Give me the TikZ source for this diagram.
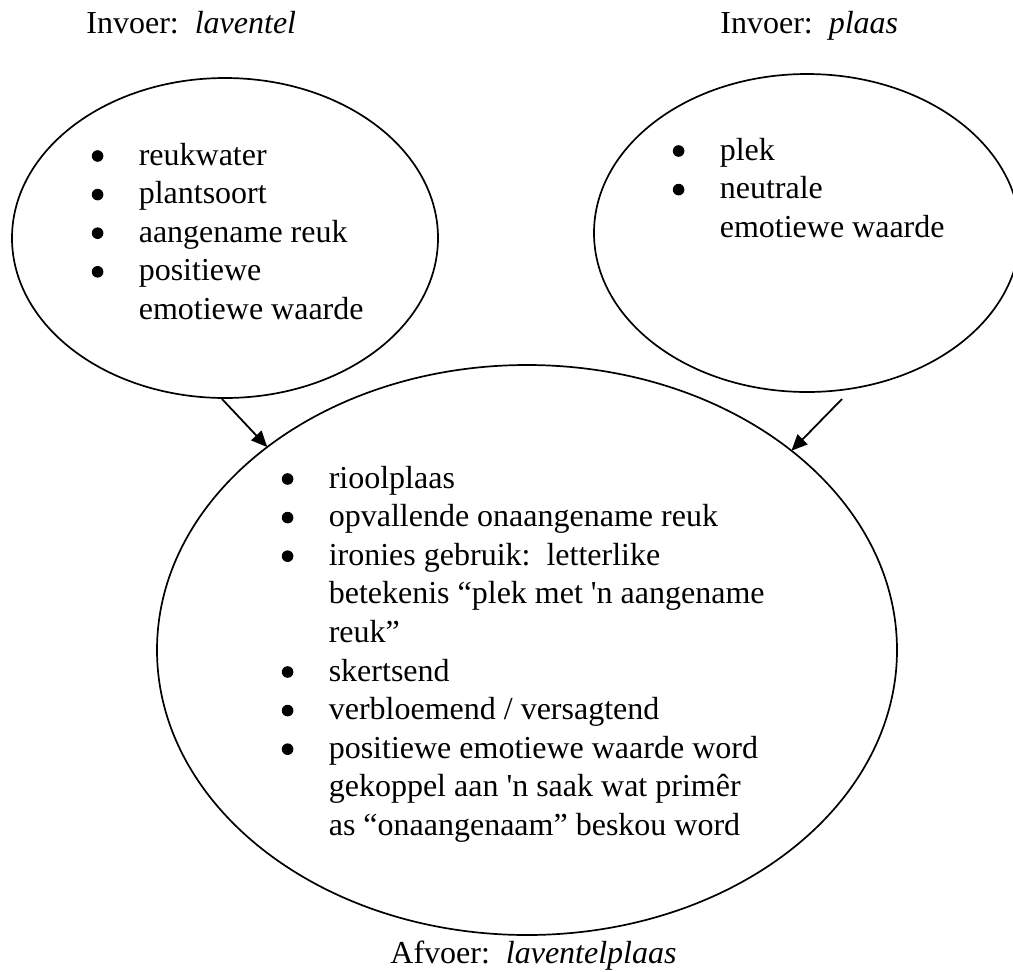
\documentclass[tikz,border=0pt]{standalone}
\usepackage{fontspec}
\newfontfamily\docfont{Liberation Serif}
\usetikzlibrary{shapes.geometric,arrows.meta}
% list bullet: a filled dot, centred 4.5pt above the baseline
\newcommand\bul{\makebox[23.5pt][l]{\tikz[baseline=-4.5pt]\fill (2.9pt,0pt) circle[radius=2.9pt];}}
\tikzset{
  bubble/.style={draw, ellipse, line width=0.85pt, inner sep=0pt, outer sep=0pt},
  caption/.style={anchor=base west, inner sep=0pt, font=\docfont\fontsize{16}{19.3}\selectfont},
  listtext/.style={anchor=base west, inner sep=0pt, font=\docfont\fontsize{16}{19.3}\selectfont},
  link/.style={line width=0.9pt, -{Triangle[length=8pt,width=7pt]}}
}
\newcommand\itemlist[1]{\parbox[t]{330pt}{\raggedright\parindent=0pt #1}}
\begin{document}
\begin{tikzpicture}[x=0.5pt,y=-0.5pt]
  \clip (0,0) rectangle (1013,971);

  % headings
  \node[caption] (inL) at (86,33) {Invoer:\ \ \textit{laventel}};
  \node[caption] (inR) at (720,33) {Invoer:\ \ \textit{plaas}};
  \node[caption] (out) at (390,963) {Afvoer:\ \ \textit{laventelplaas}};

  % the three ellipses
  \node[bubble, minimum width=213pt, minimum height=160pt] (L) at (225,238) {};
  \node[bubble, minimum width=213pt, minimum height=159pt] (R) at (807,233) {};
  \node[bubble, minimum width=370pt, minimum height=285pt] (B) at (527,650) {};

  % contents
  \node[listtext] (Ltxt) at (91.4,165) {\itemlist{%
    \bul reukwater\\
    \bul plantsoort\\
    \bul aangename reuk\\
    \bul positiewe\\
    \hspace*{23.5pt}emotiewe waarde}};
  \node[listtext] (Rtxt) at (672.4,160) {\itemlist{%
    \bul plek\\
    \bul neutrale\\
    \hspace*{23.5pt}emotiewe waarde}};
  \node[listtext] (Btxt) at (281.4,488) {\itemlist{%
    \bul rioolplaas\\
    \bul opvallende onaangename reuk\\
    \bul ironies gebruik:\ \ letterlike\\
    \hspace*{23.5pt}betekenis “plek met 'n aangename\\
    \hspace*{23.5pt}reuk”\\
    \bul skertsend\\
    \bul verbloemend / versagtend\\
    \bul positiewe emotiewe waarde word\\
    \hspace*{23.5pt}gekoppel aan 'n saak wat primêr\\
    \hspace*{23.5pt}as “onaangenaam” beskou word}};

  % arrows into the output ellipse
  \coordinate (rstart) at (842,399);
  \draw[link] ([shift={(-3,1)}]L.south) -- (B.142);
  \draw[link] (rstart) -- (B.37);
\end{tikzpicture}
\end{document}
